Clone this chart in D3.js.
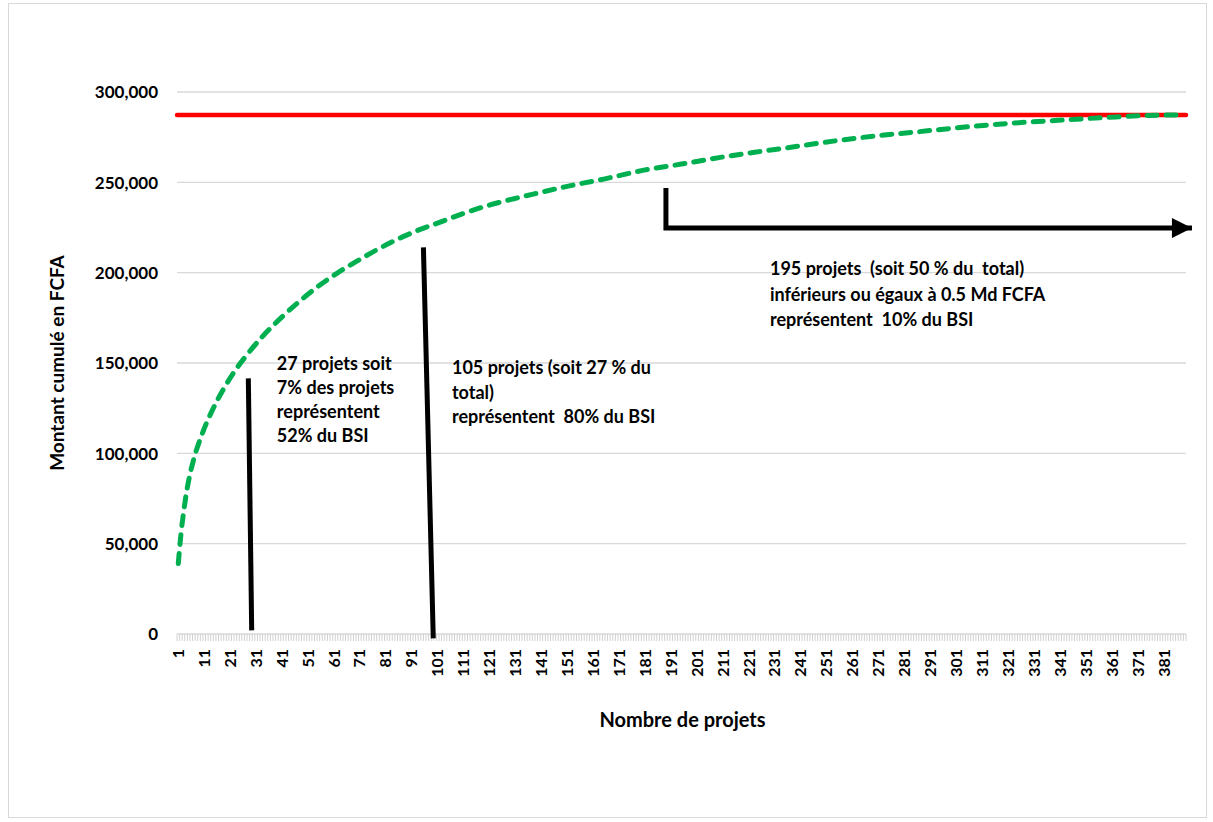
<!DOCTYPE html>
<html>
<head>
<meta charset="utf-8">
<script src="https://cdn.jsdelivr.net/npm/d3@7"></script>
<style>
  html, body { margin: 0; padding: 0; background: #fff; }
  svg text { font-family: Lato, "Open Sans", sans-serif; font-weight: 700; fill: #000; }
</style>
</head>
<body>
<svg id="chart" width="1213" height="822"></svg>
<script>
// Number of projects on the category axis
const projectCount = 389;

// Cumulative amount (FCFA) read at selected project ranks
const projectRanks = [1, 2, 3, 4, 5, 7, 10, 14, 18, 23, 28, 34, 41, 48, 55, 62, 70, 78, 86, 94,
  102, 110, 120, 130, 140, 150, 165, 180, 195, 210, 225, 240, 255, 270, 285, 300, 320, 340, 360, 375, 388];
const cumulativeAmounts = [39000, 55000, 67000, 77000, 85000, 97000, 110000, 123500, 134500, 146000,
  155500, 165500, 175500, 184500, 192500, 199500, 206500, 213000, 218800, 223800,
  228000, 232300, 237000, 240800, 244200, 247500, 251800, 256600, 260100, 263800,
  267000, 270000, 273100, 275700, 277800, 280000, 282500, 284300, 286000, 287000, 287300];

// Total budget (BSI) reference level
const totalBudget = 287300;

// Axis ticks
const yTicks = [0, 50000, 100000, 150000, 200000, 250000, 300000];
const xTickLabels = d3.range(1, 382, 10);

// Callout annotations: segments in (rank, amount) units
const calloutSegments = [
  [[28, 141500], [29.3, 2000]],
  [[95.5, 214000], [99.3, -2400]]
];
const elbowArrow = [[189, 246900], [189, 224700], [391.8, 224700]];

const calloutTexts = [
  { at: [39, 146000], lines: ["27 projets soit", "7% des projets", "représentent", "52% du BSI"] },
  { at: [106.5, 143900], lines: ["105 projets (soit 27 % du", "total)", "représentent  80% du BSI"] },
  { at: [229.1, 198700], lines: ["195 projets  (soit 50 % du  total)", "inférieurs ou égaux à 0.5 Md FCFA", "représentent  10% du BSI"] }
];

const svg = d3.select("#chart");

// Chart frame
svg.append("rect")
  .attr("x", 8.5).attr("y", 3.5).attr("width", 1198).attr("height", 814)
  .attr("fill", "#fff").attr("stroke", "#d9d9d9").attr("stroke-width", 1);

const plot = { left: 177, right: 1186, top: 92, bottom: 634 };

const x = d3.scaleLinear().domain([0.5, projectCount + 0.5]).range([plot.left, plot.right]);
const y = d3.scaleLinear().domain([0, 300000]).range([plot.bottom, plot.top]);

// Horizontal gridlines
svg.append("g").selectAll("line")
  .data(yTicks.filter(d => d > 0))
  .join("line")
  .attr("x1", plot.left).attr("x2", plot.right)
  .attr("y1", d => y(d)).attr("y2", d => y(d))
  .attr("stroke", "#d9d9d9").attr("stroke-width", 1.3);

// Y axis labels
const yAxis = d3.axisLeft(y).tickValues(yTicks).tickSize(0).tickPadding(0)
  .tickFormat(d3.format(","));
svg.append("g")
  .attr("transform", `translate(${plot.left - 19},0)`)
  .call(yAxis)
  .call(g => g.select(".domain").remove())
  .call(g => g.selectAll("text").attr("font-size", 17).attr("dy", "0.34em")
    .style("font-family", "Lato, sans-serif").style("font-weight", 700));

// Category axis: baseline with a tick between every project
const boundaries = d3.range(0, projectCount + 1).map(i => i + 0.5);
const xAxisG = svg.append("g");
xAxisG.append("line")
  .attr("x1", plot.left).attr("x2", plot.right)
  .attr("y1", plot.bottom).attr("y2", plot.bottom)
  .attr("stroke", "#d9d9d9").attr("stroke-width", 1.3);
xAxisG.selectAll("line.minor")
  .data(boundaries)
  .join("line").attr("class", "minor")
  .attr("x1", d => x(d)).attr("x2", d => x(d))
  .attr("y1", plot.bottom).attr("y2", plot.bottom + 7)
  .attr("stroke", "#d0d0d0").attr("stroke-width", 1);
xAxisG.selectAll("text")
  .data(xTickLabels)
  .join("text")
  .attr("transform", d => `translate(${x(d)},${plot.bottom + 15}) rotate(-90)`)
  .attr("text-anchor", "end")
  .attr("dy", "0.35em")
  .attr("font-size", 16)
  .text(d => d);

// Total budget line
svg.append("line")
  .attr("x1", plot.left).attr("x2", plot.right)
  .attr("y1", y(totalBudget)).attr("y2", y(totalBudget))
  .attr("stroke", "#ff0000").attr("stroke-width", 4.5).attr("stroke-linecap", "round");

// Cumulative curve
const curveData = projectRanks.map((r, i) => [r, cumulativeAmounts[i]]);
svg.append("path")
  .datum(curveData)
  .attr("fill", "none")
  .attr("stroke", "#00b050")
  .attr("stroke-width", 5)
  .attr("stroke-dasharray", "10 9")
  .attr("stroke-linecap", "round")
  .attr("d", d3.line().x(d => x(d[0])).y(d => y(d[1])).curve(d3.curveMonotoneX));

// Callout segments
const seg = d3.line().x(d => x(d[0])).y(d => y(d[1]));
svg.append("g").selectAll("path")
  .data(calloutSegments)
  .join("path")
  .attr("d", seg)
  .attr("stroke", "#000").attr("stroke-width", 5).attr("fill", "none");

// Elbow arrow
svg.append("defs").append("marker")
  .attr("id", "arrowHead")
  .attr("viewBox", "0 0 10 10").attr("refX", 10).attr("refY", 5)
  .attr("markerWidth", 4.4).attr("markerHeight", 4)
  .attr("markerUnits", "strokeWidth")
  .attr("orient", "auto")
  .append("path").attr("d", "M0,0 L10,5 L0,10 Z").attr("fill", "#000");
svg.append("path")
  .attr("d", seg(elbowArrow))
  .attr("stroke", "#000").attr("stroke-width", 5).attr("fill", "none")
  .attr("marker-end", "url(#arrowHead)");

// Callout texts
const lineHeights = [24, 24.5, 25.5];
calloutTexts.forEach((c, i) => {
  const t = svg.append("text")
    .attr("x", x(c.at[0])).attr("y", y(c.at[1]))
    .attr("font-size", 18)
    .style("white-space", "pre");
  c.lines.forEach((ln, j) => {
    t.append("tspan").attr("x", x(c.at[0])).attr("dy", j === 0 ? 0 : lineHeights[i]).text(ln);
  });
});

// Axis titles
svg.append("text")
  .attr("transform", `translate(64,${(plot.top + plot.bottom) / 2}) rotate(-90)`)
  .attr("text-anchor", "middle")
  .attr("font-size", 19)
  .text("Montant cumulé en FCFA");
svg.append("text")
  .attr("x", (plot.left + plot.right) / 2 + 1).attr("y", 727)
  .attr("text-anchor", "middle")
  .attr("font-size", 20)
  .text("Nombre de projets");
</script>
</body>
</html>
